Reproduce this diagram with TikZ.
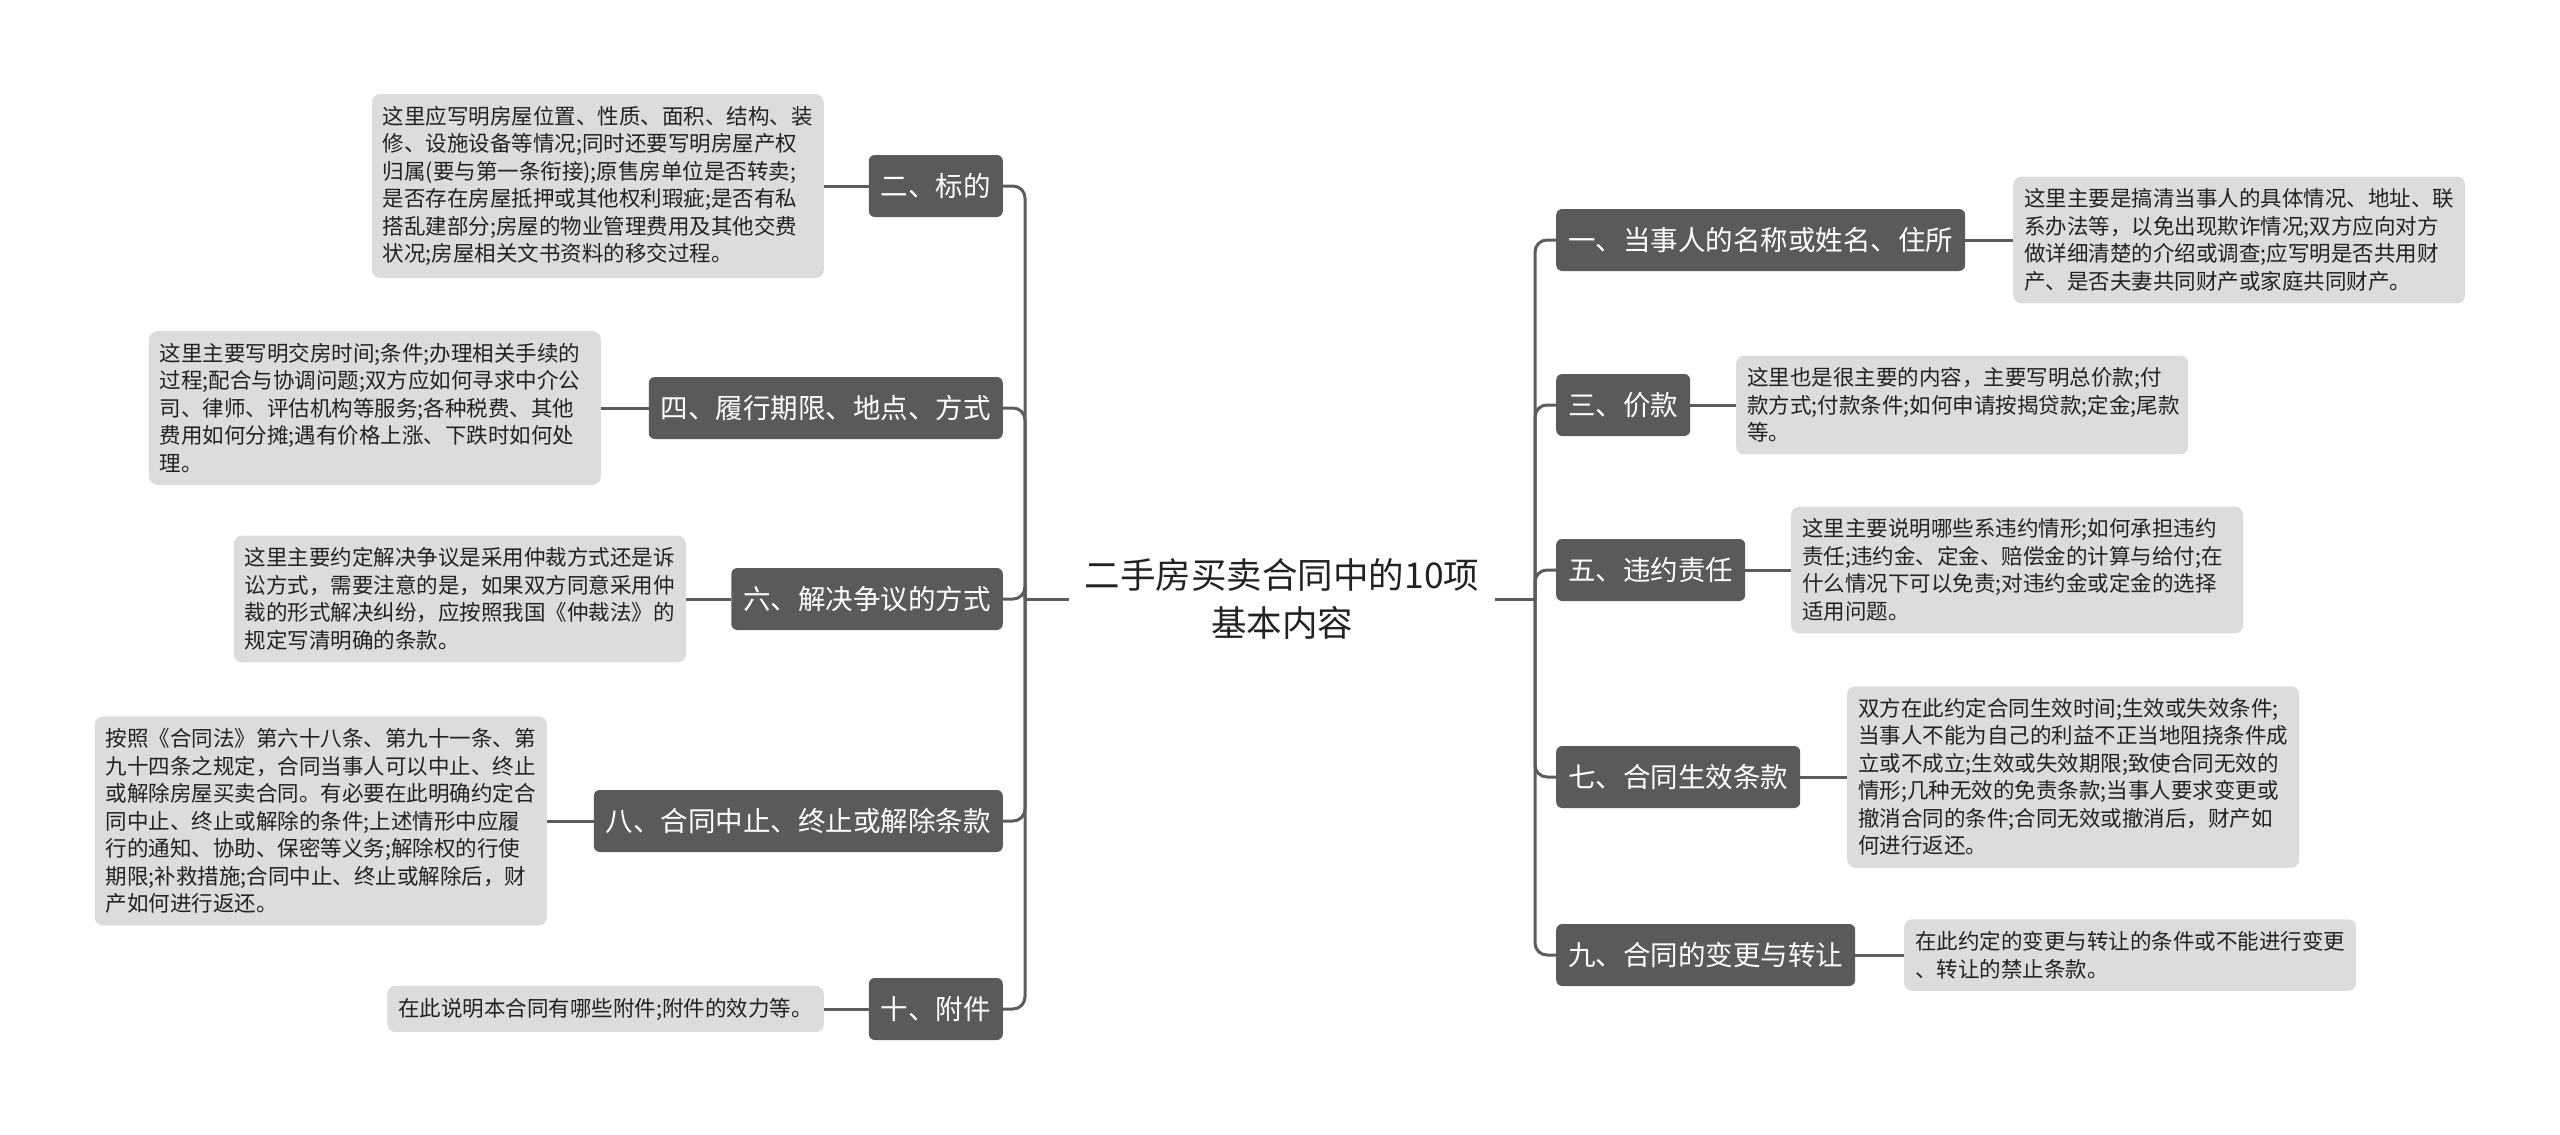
\documentclass[tikz,border=0pt]{standalone}
\usepackage{fontspec}
\setmainfont{Noto Sans CJK SC}
\definecolor{branchc}{HTML}{5A5A5A}
\definecolor{leafc}{HTML}{DCDCDC}
\definecolor{linec}{HTML}{5C5C5C}
\definecolor{textc}{HTML}{222222}
\begin{document}
\begin{tikzpicture}[x=1pt,y=-1pt,
  conn/.style={draw=linec, line width=3pt, rounded corners=12pt},
  branch/.style={fill=branchc, text=white, rounded corners=6pt, inner xsep=12pt, inner ysep=0pt, minimum height=62pt, font=\fontsize{27.5}{33}\selectfont},
  leaf/.style={fill=leafc, text=textc, rounded corners=8pt, inner xsep=11pt, inner ysep=12pt, align=left, text width=430pt, font=\fontsize{21.5}{27.5}\selectfont},
  leafs/.style={fill=leafc, text=textc, rounded corners=8pt, inner xsep=11pt, inner ysep=12pt, align=left, font=\fontsize{21.5}{27.5}\selectfont},
]
\useasboundingbox (0,0) rectangle (2560,1135);

% central topic
\node[font=\fontsize{35.5}{48}\selectfont, text=textc, align=center, inner xsep=16pt, inner ysep=4pt] (c) at (1282,599) {二手房买卖合同中的10项\\基本内容};
\coordinate (cl) at (1025,599);
\coordinate (cr) at (1535,599);

% left branches
\node[branch, anchor=east] (b2) at (1003,186) {二、标的};
\node[branch, anchor=east] (b4) at (1003,408) {四、履行期限、地点、方式};
\node[branch, anchor=east] (b6) at (1003,599) {六、解决争议的方式};
\node[branch, anchor=east] (b8) at (1003,821) {八、合同中止、终止或解除条款};
\node[branch, anchor=east] (b10) at (1003,1009) {十、附件};

% right branches
\node[branch, anchor=west] (b1) at (1556,240) {一、当事人的名称或姓名、住所};
\node[branch, anchor=west] (b3) at (1556,405) {三、价款};
\node[branch, anchor=west] (b5) at (1556,570) {五、违约责任};
\node[branch, anchor=west] (b7) at (1556,777) {七、合同生效条款};
\node[branch, anchor=west] (b9) at (1556,955) {九、合同的变更与转让};

% left leaves
\node[leaf, anchor=east] (l2) at (824,186) {这里应写明房屋位置、性质、面积、结构、装\\修、设施设备等情况;同时还要写明房屋产权\\归属(要与第一条衔接);原售房单位是否转卖;\\是否存在房屋抵押或其他权利瑕疵;是否有私\\搭乱建部分;房屋的物业管理费用及其他交费\\状况;房屋相关文书资料的移交过程。};
\node[leaf, anchor=east] (l4) at (601,408) {这里主要写明交房时间;条件;办理相关手续的\\过程;配合与协调问题;双方应如何寻求中介公\\司、律师、评估机构等服务;各种税费、其他\\费用如何分摊;遇有价格上涨、下跌时如何处\\理。};
\node[leaf, anchor=east] (l6) at (686,599) {这里主要约定解决争议是采用仲裁方式还是诉\\讼方式，需要注意的是，如果双方同意采用仲\\裁的形式解决纠纷，应按照我国《仲裁法》的\\规定写清明确的条款。};
\node[leaf, anchor=east] (l8) at (547,821) {按照《合同法》第六十八条、第九十一条、第\\九十四条之规定，合同当事人可以中止、终止\\或解除房屋买卖合同。有必要在此明确约定合\\同中止、终止或解除的条件;上述情形中应履\\行的通知、协助、保密等义务;解除权的行使\\期限;补救措施;合同中止、终止或解除后，财\\产如何进行返还。};
\node[leafs, anchor=east] (l10) at (824,1009) {在此说明本合同有哪些附件;附件的效力等。};

% right leaves
\node[leaf, anchor=west] (l1) at (2013,240) {这里主要是搞清当事人的具体情况、地址、联\\系办法等，以免出现欺诈情况;双方应向对方\\做详细清楚的介绍或调查;应写明是否共用财\\产、是否夫妻共同财产或家庭共同财产。};
\node[leaf, anchor=west] (l3) at (1736,405) {这里也是很主要的内容，主要写明总价款;付\\款方式;付款条件;如何申请按揭贷款;定金;尾款\\等。};
\node[leaf, anchor=west] (l5) at (1791,570) {这里主要说明哪些系违约情形;如何承担违约\\责任;违约金、定金、赔偿金的计算与给付;在\\什么情况下可以免责;对违约金或定金的选择\\适用问题。};
\node[leaf, anchor=west] (l7) at (1847,777) {双方在此约定合同生效时间;生效或失效条件;\\当事人不能为自己的利益不正当地阻挠条件成\\立或不成立;生效或失效期限;致使合同无效的\\情形;几种无效的免责条款;当事人要求变更或\\撤消合同的条件;合同无效或撤消后，财产如\\何进行返还。};
\node[leaf, anchor=west] (l9) at (1904,955) {在此约定的变更与转让的条件或不能进行变更\\、转让的禁止条款。};

% trunk connectors
\draw[conn] (c.west) -- (cl);
\draw[conn] (c.east) -- (cr);
\foreach \b in {b2,b4,b6,b8,b10} \draw[conn] (cl) |- (\b.east);
\foreach \b in {b1,b3,b5,b7,b9} \draw[conn] (cr) |- (\b.west);

% leaf connectors
\foreach \b/\l in {b2/l2,b4/l4,b6/l6,b8/l8,b10/l10} \draw[conn] (\b.west) -- (\l.east);
\foreach \b/\l in {b1/l1,b3/l3,b5/l5,b7/l7,b9/l9} \draw[conn] (\b.east) -- (\l.west);
\end{tikzpicture}
\end{document}
